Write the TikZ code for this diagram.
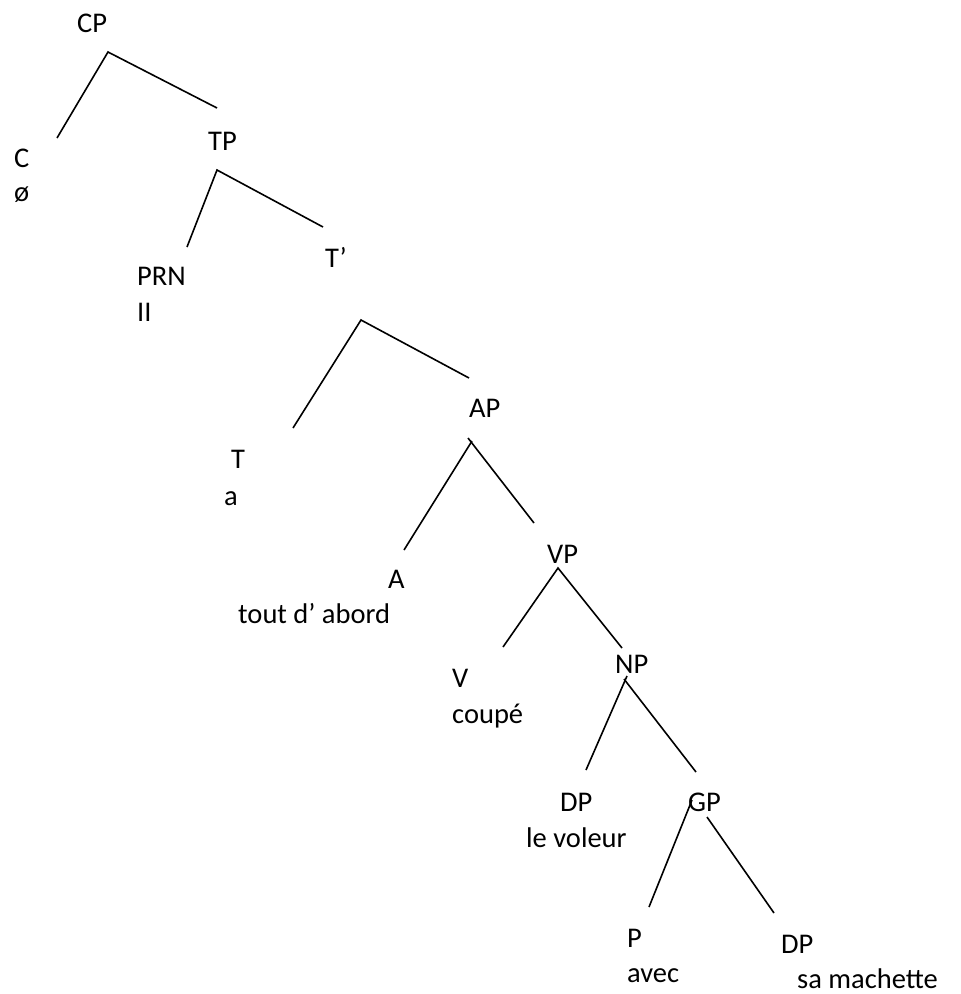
\documentclass[tikz,border=0pt]{standalone}
\usepackage{fontspec}
\setmainfont{Carlito}
\begin{document}
\begin{tikzpicture}[x=1pt,y=-1pt,
  lbl/.style={anchor=base west, inner sep=0pt, font=\fontsize{28.5}{34}\selectfont},
  branch/.style={line width=1.6pt, line cap=butt}]
\useasboundingbox (0,0) rectangle (961,994);
% labels
\node[lbl] (CP) at (77,32) {CP};
\node[lbl] (C) at (14,167) {C};
\node[lbl] (Cnull) at (14,201) {ø};
\node[lbl] (TP) at (208,150) {TP};
\node[lbl] (PRN) at (137,285) {PRN};
\node[lbl] (Il) at (137,321) {II};
\node[lbl] (Tbar) at (325,267) {T’};
\node[lbl] (AP) at (469,417) {AP};
\node[lbl] (T) at (231,468) {T};
\node[lbl] (Ta) at (224,505) {a};
\node[lbl] (VP) at (547,563) {VP};
\node[lbl] (A) at (388,588) {A};
\node[lbl] (Aw) at (238,623) {tout d’ abord};
\node[lbl] (NP) at (615,673) {NP};
\node[lbl] (V) at (452,687) {V};
\node[lbl] (Vw) at (452,723) {coupé};
\node[lbl] (DP1) at (560,811) {DP};
\node[lbl] (DP1w) at (526,847) {le voleur};
\node[lbl] (GP) at (688,811) {GP};
\node[lbl] (P) at (627,947) {P};
\node[lbl] (Pw) at (627,982) {avec};
\node[lbl] (DP2) at (781,953) {DP};
\node[lbl] (DP2w) at (797,988) {sa machette};
% branch end points
\coordinate (cpA) at (108,52);
\coordinate (cpL) at (57,138);
\coordinate (cpR) at (217,108);
\coordinate (tpA) at (217,170);
\coordinate (tpL) at (187,247);
\coordinate (tpR) at (323,227);
\coordinate (tbA) at (361,320);
\coordinate (tbL) at (293,428);
\coordinate (tbR) at (469,378);
\coordinate (apA) at (472,441);
\coordinate (apAr) at (468,438);
\coordinate (apL) at (404,550);
\coordinate (apR) at (534,523);
\coordinate (vpA) at (558,568);
\coordinate (vpL) at (503,647);
\coordinate (vpR) at (622,648);
\coordinate (npA) at (627,676);
\coordinate (npAr) at (624,679);
\coordinate (npL) at (586,770);
\coordinate (npR) at (696,772);
\coordinate (gpAl) at (692,800);
\coordinate (gpL) at (649,907);
\coordinate (gpAr) at (707,817);
\coordinate (gpR) at (774,913);
% branches
\draw[branch] (cpL) -- (cpA) -- (cpR);
\draw[branch] (tpL) -- (tpA) -- (tpR);
\draw[branch] (tbL) -- (tbA) -- (tbR);
\draw[branch] (apL) -- (apA);
\draw[branch] (apAr) -- (apR);
\draw[branch] (vpL) -- (vpA) -- (vpR);
\draw[branch] (npL) -- (npA);
\draw[branch] (npAr) -- (npR);
\draw[branch] (gpL) -- (gpAl);
\draw[branch] (gpAr) -- (gpR);
\end{tikzpicture}
\end{document}
